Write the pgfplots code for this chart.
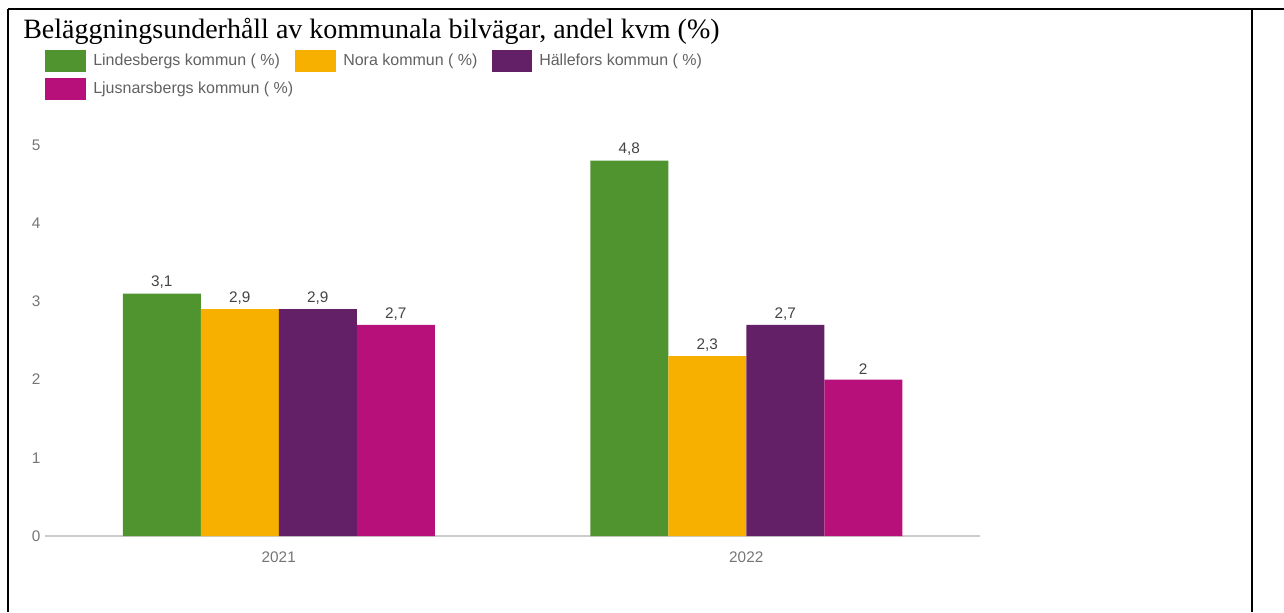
\documentclass[border=0pt]{standalone}
\usepackage{fontspec}
\setmainfont{Liberation Sans}
\newfontfamily\titlefont{Liberation Serif}
\usepackage{pgfplots}
\pgfplotsset{compat=1.18}

\definecolor{cGreen}{RGB}{80,148,48}
\definecolor{cOrange}{RGB}{248,176,0}
\definecolor{cPurple}{RGB}{99,32,102}
\definecolor{cMagenta}{RGB}{183,16,122}
\definecolor{axisGray}{RGB}{204,204,204}
\definecolor{tickGray}{RGB}{117,117,117}
\definecolor{legGray}{RGB}{97,97,97}
\definecolor{valGray}{RGB}{68,68,68}

\begin{document}
\begin{tikzpicture}
\useasboundingbox (0,0) rectangle (963pt,-459pt);

% frame, title, legend in pixel units
\begin{scope}[x=0.75pt,y=-0.75pt]
  \draw[line width=1.5pt] (8,9) -- (1284,9);
  \draw[line width=1.5pt] (8,9) -- (8,612);
  \draw[line width=1.5pt] (1252,9) -- (1252,612);
  \node[anchor=base west,inner sep=0pt,font=\titlefont\fontsize{21}{25}\selectfont] at (23,38)
    {Beläggningsunderhåll av kommunala bilvägar, andel kvm (\%)};
  \begin{scope}[every node/.style={anchor=west,inner sep=0pt,text=legGray,font=\fontsize{12}{14}\selectfont}]
    \fill[cGreen]   (45,50) rectangle (86,72);
    \node at (93,61) {Lindesbergs kommun ( \%)};
    \fill[cOrange]  (295,50) rectangle (336,72);
    \node at (343,61) {Nora kommun ( \%)};
    \fill[cPurple]  (492,50) rectangle (532,72);
    \node at (539,61) {Hällefors kommun ( \%)};
    \fill[cMagenta] (45,78) rectangle (86,100);
    \node at (93,89) {Ljusnarsbergs kommun ( \%)};
  \end{scope}
\end{scope}

\begin{axis}[
  at={(33.75pt,-402pt)}, anchor=south west,
  scale only axis,
  width=701.25pt, height=293.25pt,
  xmin=-0.5, xmax=1.5, ymin=0, ymax=5,
  ybar=0pt, bar width=58.5pt,
  axis x line*=bottom,
  axis y line*=left,
  x axis line style={draw=axisGray,line width=1.5pt,-},
  y axis line style={draw=none},
  xtick={0,1}, xticklabels={2021,2022},
  ytick={0,1,2,3,4,5},
  major tick style={draw=none},
  tick label style={font=\fontsize{11.5}{13}\selectfont,text=tickGray},
  xticklabel style={yshift=-4pt},
  yticklabel style={xshift=0pt},
  /pgf/number format/assume math mode=true,
  /pgf/number format/use comma,
  nodes near coords,
  every node near coord/.append style={font=\fontsize{11.5}{13}\selectfont,text=valGray,
    /pgf/number format/assume math mode=true,/pgf/number format/use comma},
  clip=false,
]
\addplot[fill=cGreen,draw=none]   coordinates {(0,3.1) (1,4.8)};
\addplot[fill=cOrange,draw=none]  coordinates {(0,2.9) (1,2.3)};
\addplot[fill=cPurple,draw=none]  coordinates {(0,2.9) (1,2.7)};
\addplot[fill=cMagenta,draw=none] coordinates {(0,2.7) (1,2.0)};
\end{axis}
\end{tikzpicture}
\end{document}
